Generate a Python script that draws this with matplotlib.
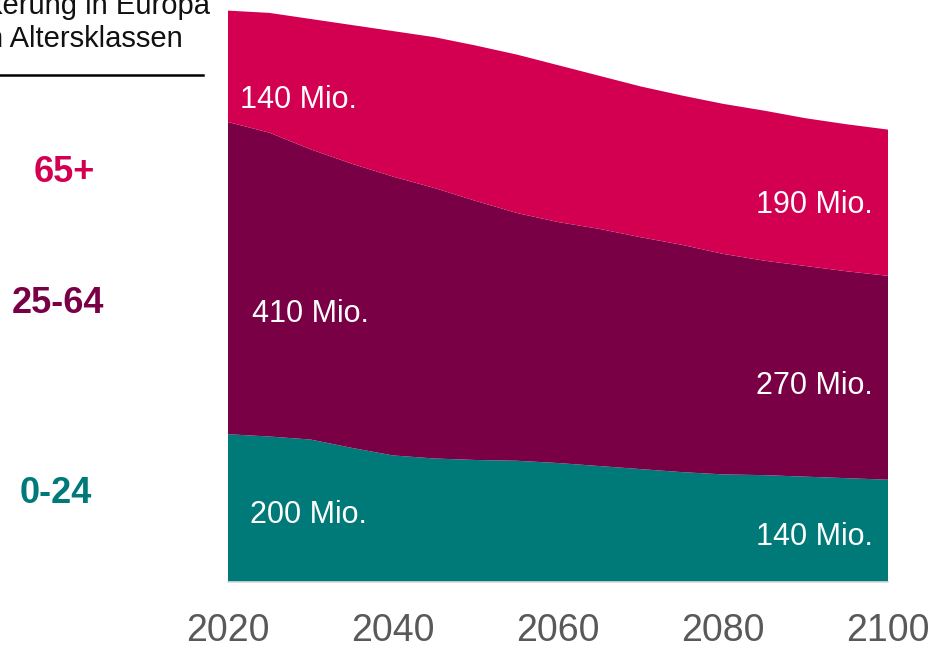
import matplotlib
matplotlib.use("Agg")
import matplotlib.pyplot as plt
from matplotlib.lines import Line2D

plt.rcParams['font.family'] = ['Liberation Sans', 'DejaVu Sans']

# ---- data (millions) ----
years = [2020, 2025, 2030, 2035, 2040, 2045, 2050, 2055, 2060,
         2065, 2070, 2075, 2080, 2085, 2090, 2095, 2100]
age_0_24 = [195, 192, 188, 177, 167, 163, 161, 160, 157,
            153, 149, 145, 142, 141, 139, 137, 135]
age_25_64 = [412, 401, 383, 375, 368, 357, 342, 327, 318,
             313, 306, 300, 291, 283, 278, 273, 269]
age_65_plus = [147, 158, 172, 183, 192, 199, 205, 209, 207,
               202, 199, 197, 198, 198, 195, 194, 193]
group_labels = ["0-24", "25-64", "65+"]
tick_years = [2020, 2040, 2060, 2080, 2100]
title_line1 = "Bevölkerung in Europa"
title_line2 = "nach Altersklassen"

c_teal = "#007A78"
c_purple = "#7A0046"
c_pink = "#D30052"
colors = [c_teal, c_purple, c_pink]

W, H = 932, 645
fig = plt.figure(figsize=(W / 100, H / 100), dpi=100)
ax = fig.add_axes([228 / W, (H - 582) / H, (888 - 228) / W, 582 / H])

ax.stackplot(years, age_0_24, age_25_64, age_65_plus, colors=colors,
             linewidth=0)
ax.set_xlim(2020, 2100)
ax.set_ylim(0, 768)

for s in ["top", "left", "right"]:
    ax.spines[s].set_visible(False)
ax.spines["bottom"].set_color("#d9d9d9")
ax.spines["bottom"].set_linewidth(1.2)
ax.set_yticks([])
ax.set_xticks(tick_years)
ax.set_xticklabels([str(t) for t in tick_years])
ax.tick_params(axis="x", length=0, pad=22, labelsize=27, labelcolor="#595959")

# value labels
lbl = dict(color="white", fontsize=22, va="center")
ax.text(2021.4, 636, "140 Mio.", ha="left", **lbl)
ax.text(2098.2, 498, "190 Mio.", ha="right", **lbl)
ax.text(2022.9, 354, "410 Mio.", ha="left", **lbl)
ax.text(2098.2, 259, "270 Mio.", ha="right", **lbl)
ax.text(2022.7, 88, "200 Mio.", ha="left", **lbl)
ax.text(2098.2, 59, "140 Mio.", ha="right", **lbl)

# group labels left
gl = dict(fontsize=26, fontweight="bold", ha="center", va="center",
          transform=ax.get_yaxis_transform(), clip_on=False)
ax.text((64 - 228) / 660, 540, group_labels[2], color=c_pink, **gl)
ax.text((58 - 228) / 660, 368, group_labels[1], color=c_purple, **gl)
ax.text((55.5 - 228) / 660, 117, group_labels[0], color=c_teal, **gl)

# title (partially cut at the left edge, as in the original)
fig.text(210 / W, 1 - 14 / H, title_line1, ha="right", va="baseline",
         fontsize=21, color="#111111")
fig.text(183 / W, 1 - 46.7 / H, title_line2, ha="right", va="baseline",
         fontsize=21, color="#111111")
fig.add_artist(Line2D([0, 203 / W], [1 - 74.5 / H, 1 - 74.5 / H],
                      transform=fig.transFigure, color="black", linewidth=1.8))

fig.savefig("out.png", dpi=100)
